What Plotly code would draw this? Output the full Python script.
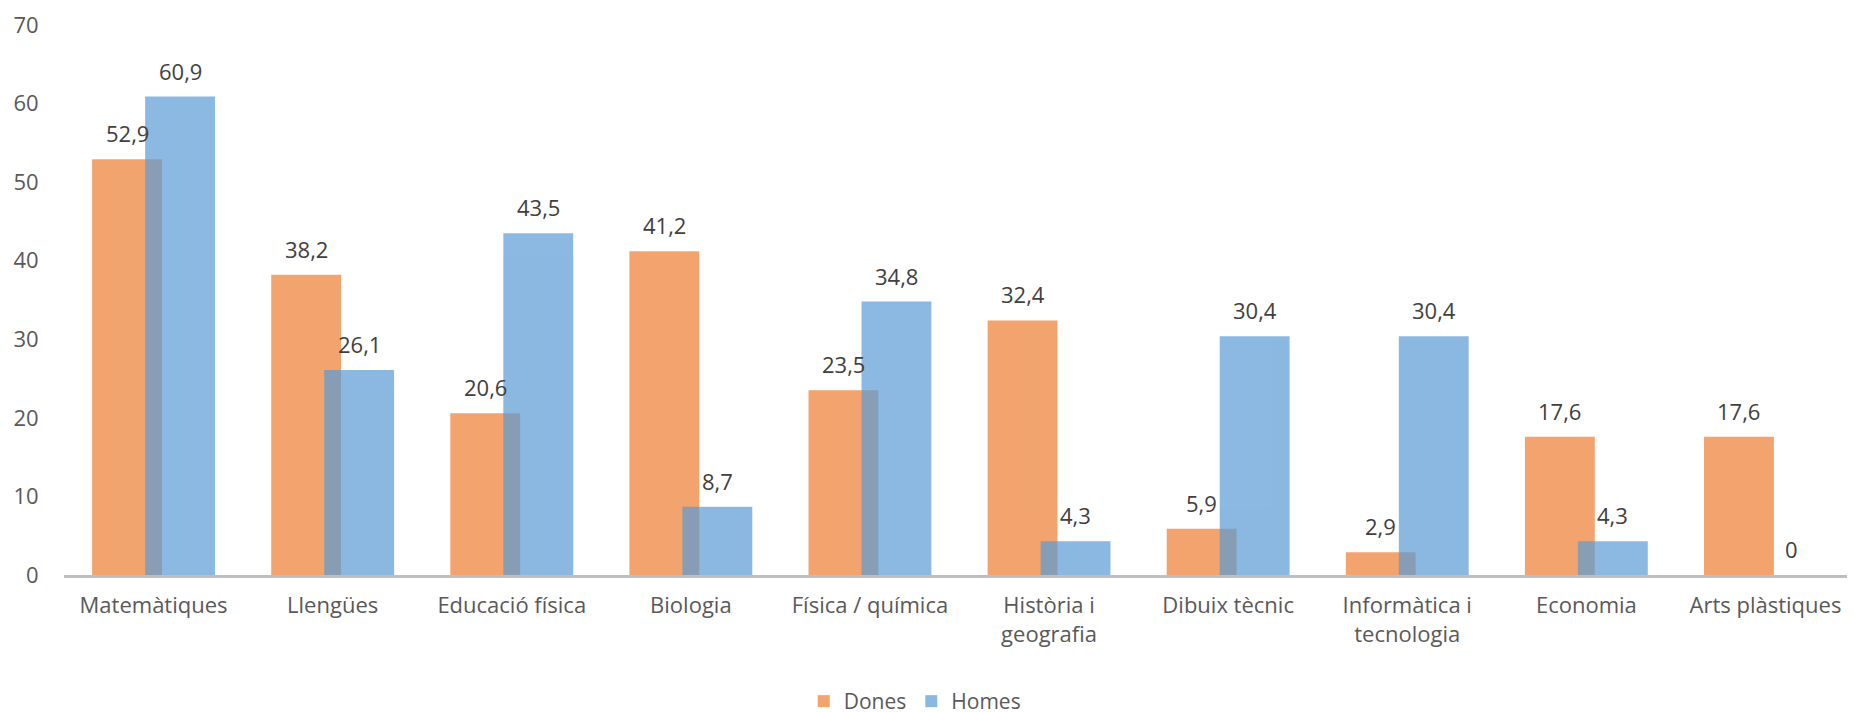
import plotly.graph_objects as go

categories = ["Matemàtiques", "Llengües", "Educació física", "Biologia", "Física / química",
              "Història i<br>geografia", "Dibuix tècnic", "Informàtica i<br>tecnologia", "Economia",
              "Arts plàstiques"]
dones = [52.9, 38.2, 20.6, 41.2, 23.5, 32.4, 5.9, 2.9, 17.6, 17.6]
homes = [60.9, 26.1, 43.5, 8.7, 34.8, 4.3, 30.4, 30.4, 4.3, 0]
y_ticks = [0, 10, 20, 30, 40, 50, 60, 70]

idx = list(range(len(categories)))
W = 0.39
OFF_D = -0.343
OFF_H = -0.047
FONT = "Open Sans"

def fmt(v):
    s = f"{v:g}"
    return s.replace(".", ",")

fig = go.Figure()
fig.add_trace(go.Bar(x=idx, y=dones, name="Dones", width=W, offset=OFF_D,
                     marker=dict(color="#ED7D31", line=dict(width=0)), opacity=0.7))
fig.add_trace(go.Bar(x=idx, y=homes, name="Homes", width=W, offset=OFF_H,
                     marker=dict(color="#5B9BD5", line=dict(width=0)), opacity=0.7))

for i in idx:
    fig.add_annotation(x=i + OFF_D + W / 2, y=dones[i], text=fmt(dones[i]), showarrow=False,
                       yanchor="bottom", yshift=9, font=dict(family=FONT, size=22, color="#404040"))
    fig.add_annotation(x=i + OFF_H + W / 2, y=homes[i], text=fmt(homes[i]), showarrow=False,
                       yanchor="bottom", yshift=9, font=dict(family=FONT, size=22, color="#404040"))

# page body has an 8px default margin: offset the figure accordingly
fig.update_layout(
    width=1847, height=712,
    barmode="overlay",
    plot_bgcolor="white", paper_bgcolor="white",
    margin=dict(l=56, r=0, t=17, b=145, autoexpand=False),
    font=dict(family=FONT, size=22, color="#595959"),
    showlegend=True,
    legend=dict(orientation="h", x=0.475, xanchor="center", y=-0.23, yanchor="middle",
                font=dict(family=FONT, size=21, color="#595959"), traceorder="normal",
                itemwidth=30),
)
fig.update_xaxes(range=[-0.5, 9.5], tickvals=idx, ticktext=categories, showgrid=False,
                 showline=True, linecolor="#BFBFBF", linewidth=2.5, zeroline=False,
                 ticks="outside", ticklen=9, tickcolor="rgba(0,0,0,0)", tickangle=0,
                 automargin=False, ticklabeloverflow="allow")
fig.update_yaxes(range=[0, 70], tickvals=y_ticks, showgrid=False, showline=False, zeroline=False,
                 ticks="outside", ticklen=20, tickcolor="rgba(0,0,0,0)", automargin=False,
                 ticklabeloverflow="allow")

fig.write_html("out.html")
